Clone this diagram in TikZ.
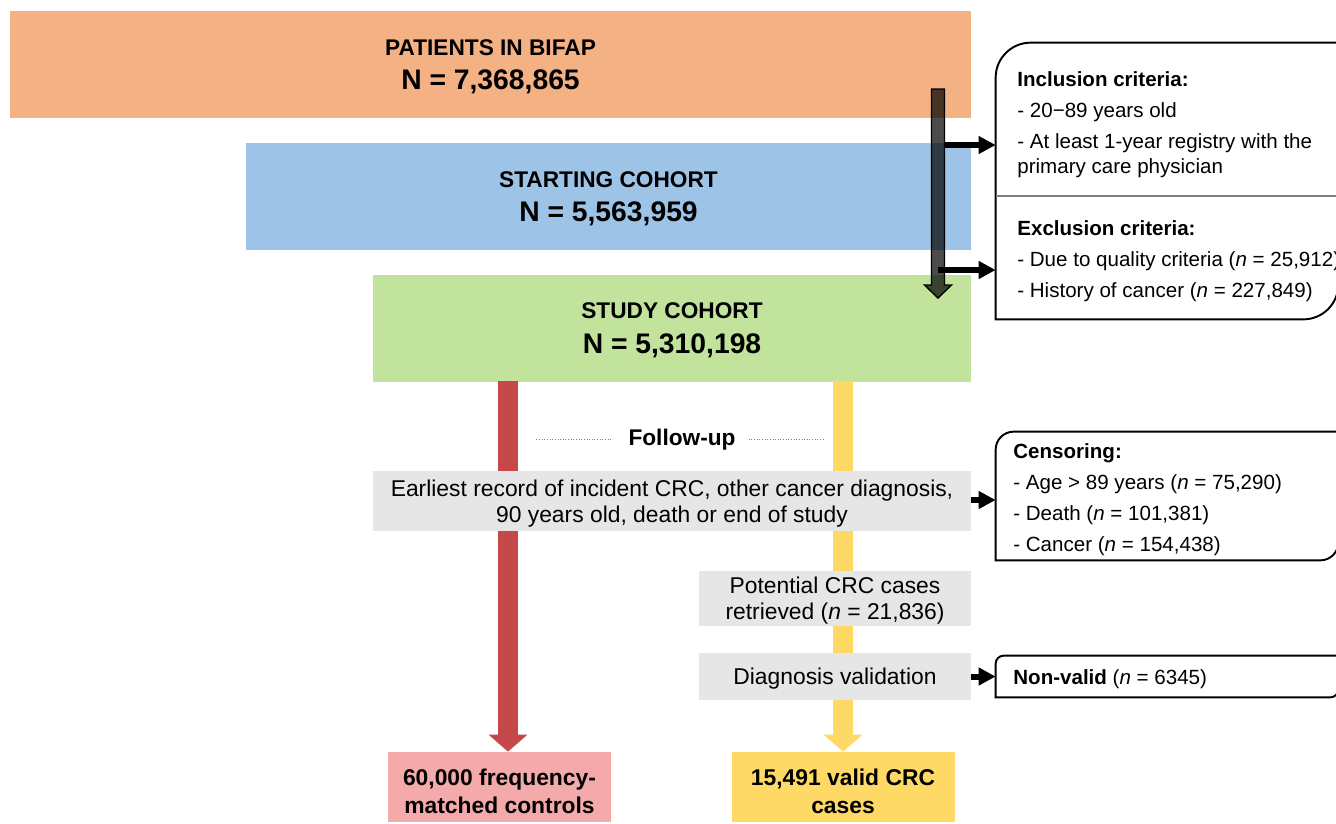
\documentclass[tikz,border=0pt]{standalone}
\usepackage{fontspec}
\setmainfont{Liberation Sans}
\usetikzlibrary{calc}
\usetikzlibrary{positioning}
\usetikzlibrary{arrows.meta}

\definecolor{bifapc}{HTML}{F4B183}
\definecolor{startc}{HTML}{9DC3E6}
\definecolor{studyc}{HTML}{C2E39C}
\definecolor{eventc}{HTML}{E7E6E6}
\definecolor{ctrlc}{HTML}{F4A9AA}
\definecolor{barred}{HTML}{C5494A}
\definecolor{caseyel}{HTML}{FFD966}

\newdimen\pxu
\pxu=0.02cm
\newcommand{\bigN}{\fontsize{16.1}{19.6}\selectfont}
\newcommand{\topstrut}{\rule{0pt}{14pt}}

\begin{document}
\begin{tikzpicture}[
    x=0.02cm,
    y=-0.02cm,
    cohort/.style={
        rectangle,
        inner sep=0pt,
        minimum height=107\pxu,
        text depth=-0.5pt,
        align=center,
        font=\bfseries\fontsize{12.9}{19.6}\selectfont,
        },
    event/.style={
        rectangle,
        fill=eventc,
        inner sep=0pt,
        text depth=-0.6pt,
        align=center,
        font=\fontsize{13}{14.9}\selectfont,
        },
    result/.style={
        rectangle,
        inner sep=0pt,
        minimum width=223\pxu,
        minimum height=70\pxu,
        align=center,
        font=\bfseries\fontsize{13}{15.9}\selectfont,
        },
    frame/.style={
        rectangle,
        inner sep=0pt,
        minimum width=342\pxu,
        },
    outline/.style={
        draw=black,
        line width=1.1pt,
        },
    crittext/.style={
        inner sep=0pt,
        anchor=north west,
        align=left,
        font=\fontsize{11.7}{14.2}\selectfont,
        },
    darkarrow/.style={
        fill=black,
        fill opacity=.7,
        draw=black,
        line width=.8pt,
        },
    blkarrow/.style={
        line width=0.12cm,
        -{Triangle[width=0.34cm,length=0.34cm]},
        },
    bar/.style={
        line width=0.4cm,
        -{Triangle[width=0.76cm,length=0.34cm]},
        },
    fudots/.style={
        densely dotted,
        gray,
        line width=.5pt,
        },
    ]

    \useasboundingbox (0,0) rectangle (1336,823);

    % cohorts
    \node [cohort, fill=bifapc, minimum width=961\pxu] (bifap) at (490.5,64.5)
        {PATIENTS IN BIFAP\\{\bigN N = 7,368,865}};
    \node [cohort, fill=startc, minimum width=725\pxu] (start) at (608.5,196.5)
        {STARTING COHORT\\{\bigN N = 5,563,959}};
    \node [cohort, fill=studyc, minimum width=598\pxu] (study) at (672,328)
        {STUDY COHORT\\{\bigN N = 5,310,198}};

    % final groups
    \node [result, fill=ctrlc] (ctrl) at (499.5,787) {\topstrut 60,000 frequency-\\matched controls};
    \node [result, fill=caseyel] (cases) at (843,787) {\topstrut 15,491 valid CRC\\cases};

    % criteria frames
    \node [frame, minimum height=276\pxu] (inclfr) at (1167,181) {};
    \node [frame, minimum height=128\pxu] (censfr) at (1167,496) {};
    \node [frame, minimum height=41\pxu] (nvfr) at (1167,676.5) {};

    \draw [outline] (inclfr.south west) -- (inclfr.west) [rounded corners=0.7cm]
        -- (inclfr.north west) -- (inclfr.north) [sharp corners] -- (inclfr.north east)
        -- (inclfr.east) [rounded corners=0.7cm] -- (inclfr.south east)
        -- (inclfr.south) [sharp corners] -- cycle;
    \draw [gray, line width=.6pt] (inclfr.west |- 0,196) -- (inclfr.east |- 0,196);
    \draw [outline] (censfr.south west) -- (censfr.west) [rounded corners=0.36cm]
        -- (censfr.north west) -- (censfr.north) [sharp corners] -- (censfr.north east)
        -- (censfr.east) [rounded corners=0.36cm] -- (censfr.south east)
        -- (censfr.south) [sharp corners] -- cycle;
    \draw [outline] (nvfr.south west) -- (nvfr.west) [rounded corners=0.16cm]
        -- (nvfr.north west) -- (nvfr.north) [sharp corners] -- (nvfr.north east)
        -- (nvfr.east) [rounded corners=0.16cm] -- (nvfr.south east)
        -- (nvfr.south) [sharp corners] -- cycle;

    \node [crittext] (incl) at (1017,71)
        {\textbf{Inclusion criteria:}\\[3.4pt]
        - 20−89 years old\\[3.4pt]
        - At least 1-year registry with the\\
        primary care physician};
    \node [crittext] (excl) at (1017,220)
        {\textbf{Exclusion criteria:}\\[3.6pt]
        - Due to quality criteria (\textit{n} = 25,912)\\[3.2pt]
        - History of cancer (\textit{n} = 227,849)};
    \node [crittext] (cens) at (1013,443)
        {\textbf{Censoring:}\\[3.4pt]
        - Age > 89 years (\textit{n} = 75,290)\\[3.4pt]
        - Death (\textit{n} = 101,381)\\[3.4pt]
        - Cancer (\textit{n} = 154,438)};
    \node [crittext, anchor=west] (nonvalid) at (1013,679.5)
        {\textbf{Non-valid} (\textit{n} = 6345)};

    % follow-up bars
    \coordinate (ctrltop) at (508,381);
    \coordinate (casetop) at (843,381);
    \draw [bar, barred] (ctrltop) -- (ctrltop |- ctrl.north);
    \draw [bar, caseyel] (casetop) -- (casetop |- cases.north);

    \node [inner sep=0pt, font=\bfseries\fontsize{12.9}{14.8}\selectfont] (fu) at (682,440) {Follow-up};
    \draw [fudots] (fu.west) ++(-17,-1) -- ++(-75,0);
    \draw [fudots] (fu.east) ++(13,-1) -- ++(74,0);

    \node [event, minimum width=598\pxu, minimum height=60\pxu] (end) at (672,501)
        {Earliest record of incident CRC, other cancer diagnosis,\\90 years old, death or end of study};
    \node [event, minimum width=272\pxu, minimum height=55\pxu] (retr) at (835,598.5)
        {Potential CRC cases\\retrieved (\textit{n} = 21,836)};
    \node [event, minimum width=272\pxu, minimum height=47\pxu] (valid) at (835,676.5)
        {Diagnosis validation};

    % exclusion arrow
    \coordinate (dtop) at (938,89);
    \coordinate (dtip) at (938,298);
    \filldraw [darkarrow] ($(dtop)+(-6.5,0)$) -- ($(dtop)+(6.5,0)$) -- ($(dtip)+(6.5,-13)$)
        -- ($(dtip)+(13.5,-13)$) -- (dtip) -- ($(dtip)+(-13.5,-13)$)
        -- ($(dtip)+(-6.5,-13)$) -- cycle;

    \coordinate (inclout) at (945,145);
    \coordinate (exclout) at (938,270);
    \draw [blkarrow] (inclout) -- (inclout -| inclfr.west);
    \draw [blkarrow] (exclout) -- (exclout -| inclfr.west);
    \draw [blkarrow] (end.east |- 0,500) -- (censfr.west |- 0,500);
    \draw [blkarrow] (valid.east) -- (nvfr.west);

\end{tikzpicture}
\end{document}
